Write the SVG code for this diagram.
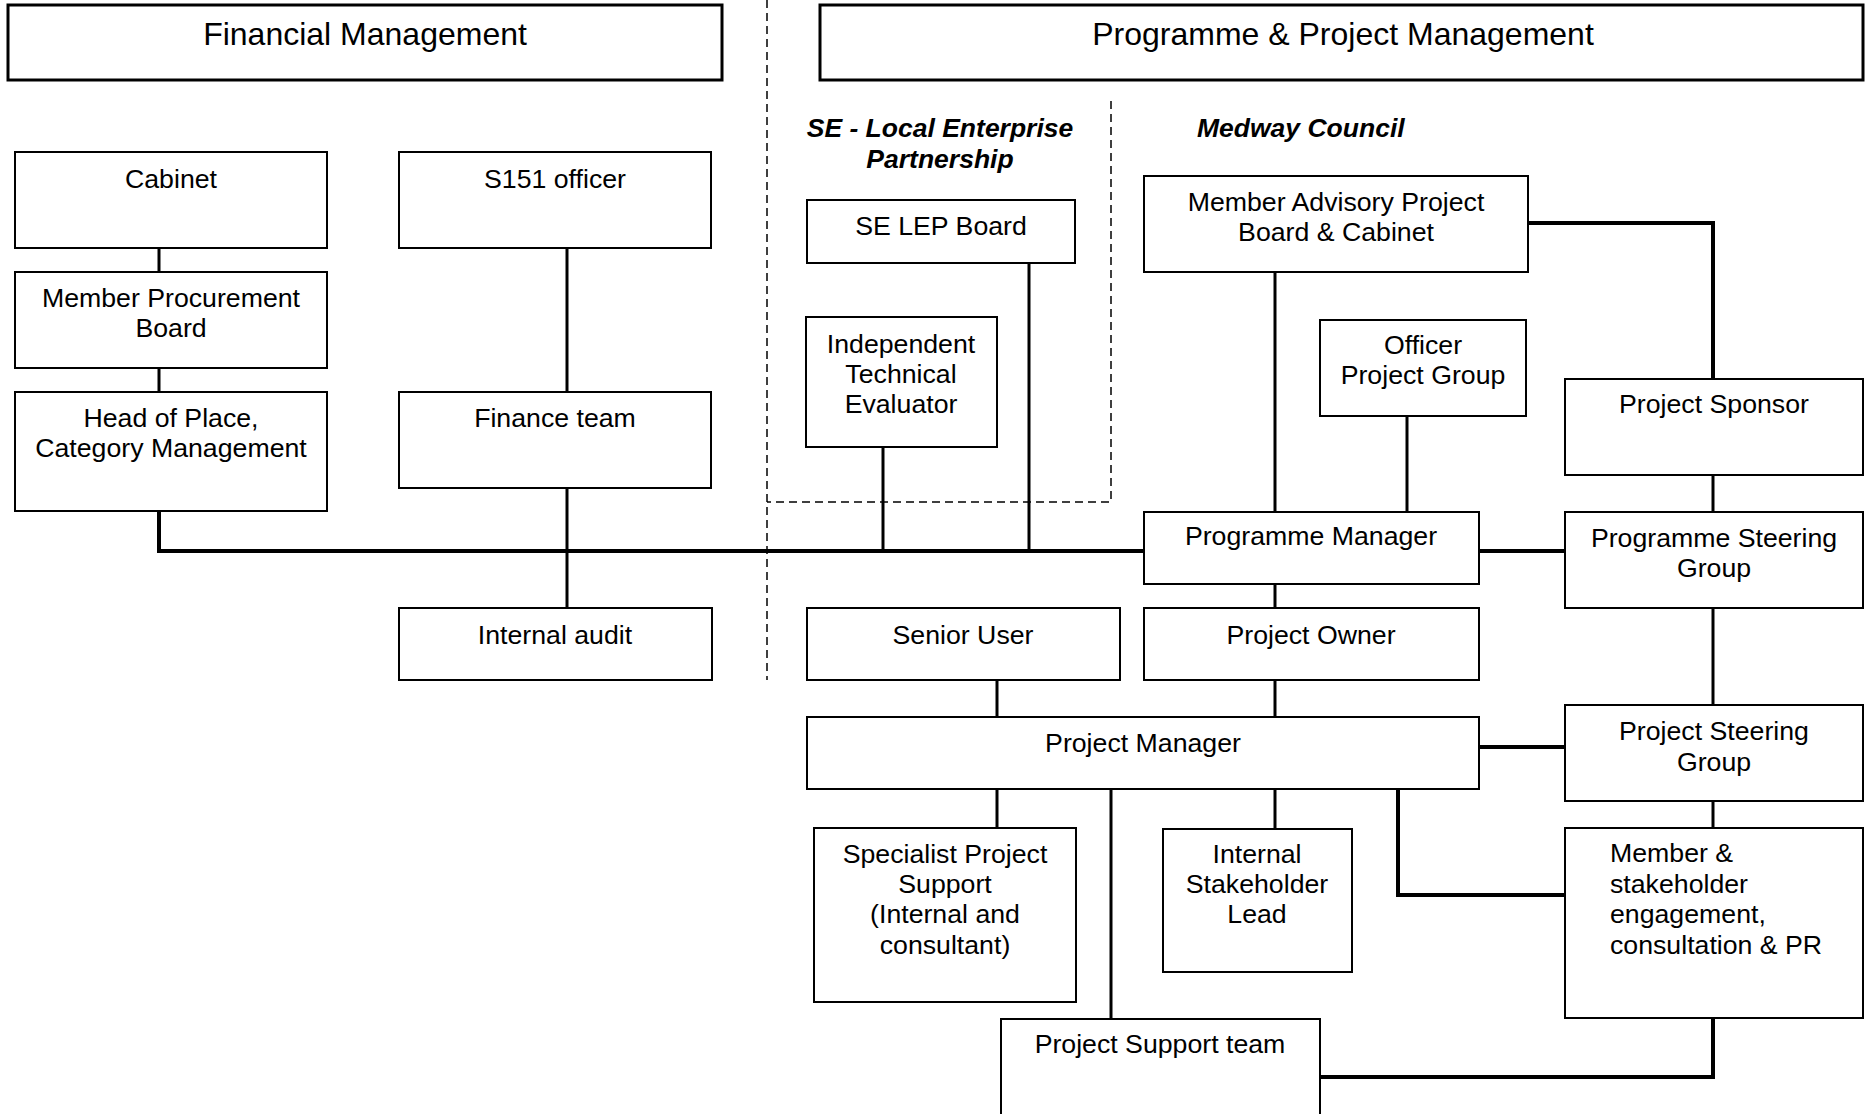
<svg xmlns="http://www.w3.org/2000/svg" width="1865" height="1114" viewBox="0 0 1865 1114">
<style>
  .box { fill: #ffffff; stroke: #000000; stroke-width: 2; }
  .hdr { fill: #ffffff; stroke: #000000; stroke-width: 3; }
  .t { font-family: "Liberation Sans", Arial, sans-serif; font-size: 26.7px; fill: #000000; text-anchor: middle; }
  .tl { font-family: "Liberation Sans", Arial, sans-serif; font-size: 26.7px; fill: #000000; text-anchor: start; }
  .th { font-family: "Liberation Sans", Arial, sans-serif; font-size: 32px; fill: #000000; text-anchor: middle; }
  .tb { font-family: "Liberation Sans", Arial, sans-serif; font-size: 26.5px; font-weight: bold; font-style: italic; fill: #000000; }
  .c { fill: none; stroke: #000000; stroke-width: 3; }
  .ck { fill: none; stroke: #000000; stroke-width: 4; }
  .d { fill: none; stroke: #000000; stroke-width: 1.5; stroke-dasharray: 8 5; }
</style>
<rect width="1865" height="1114" fill="#ffffff"/>

<g id="dividers">
  <line class="d" x1="767" y1="0" x2="767" y2="680"/>
  <path class="d" d="M1111,101 V502 H767"/>
</g>

<g id="connectors">
  <line class="c" x1="159" y1="248" x2="159" y2="272"/>
  <line class="c" x1="159" y1="368" x2="159" y2="392"/>
  <polyline class="ck" points="159,511 159,551 1144,551"/>
  <line class="c" x1="567" y1="248" x2="567" y2="392"/>
  <line class="c" x1="567" y1="488" x2="567" y2="608"/>
  <line class="c" x1="883" y1="447" x2="883" y2="551"/>
  <line class="c" x1="1029" y1="263" x2="1029" y2="551"/>
  <line class="c" x1="1275" y1="272" x2="1275" y2="512"/>
  <line class="c" x1="1407" y1="416" x2="1407" y2="512"/>
  <polyline class="ck" points="1528,223 1713,223 1713,379"/>
  <line class="c" x1="1713" y1="475" x2="1713" y2="512"/>
  <line class="ck" x1="1479" y1="551" x2="1565" y2="551"/>
  <line class="c" x1="1713" y1="608" x2="1713" y2="705"/>
  <line class="c" x1="1275" y1="584" x2="1275" y2="608"/>
  <line class="c" x1="1275" y1="680" x2="1275" y2="717"/>
  <line class="c" x1="997" y1="680" x2="997" y2="717"/>
  <line class="ck" x1="1479" y1="747" x2="1565" y2="747"/>
  <line class="c" x1="1713" y1="801" x2="1713" y2="828"/>
  <line class="c" x1="997" y1="789" x2="997" y2="828"/>
  <line class="c" x1="1111" y1="789" x2="1111" y2="1019"/>
  <line class="c" x1="1275" y1="789" x2="1275" y2="829"/>
  <polyline class="ck" points="1398,789 1398,895 1565,895"/>
  <polyline class="ck" points="1713,1018 1713,1077 1320,1077"/>
</g>

<g id="financial-management">
  <rect class="hdr" x="8" y="5" width="714" height="75"/>
  <text class="th" x="365" y="45">Financial Management</text>
</g>
<g id="programme-project-management">
  <rect class="hdr" x="820" y="5" width="1043" height="75"/>
  <text class="th" x="1343" y="45">Programme &amp; Project Management</text>
</g>

<g id="label-se-lep">
  <text class="tb" x="940" y="137" text-anchor="middle">SE - Local Enterprise</text>
  <text class="tb" x="940" y="168" text-anchor="middle">Partnership</text>
</g>
<g id="label-medway">
  <text class="tb" x="1197" y="137">Medway Council</text>
</g>

<g id="cabinet">
  <rect class="box" x="15" y="152" width="312" height="96"/>
  <text class="t" x="171" y="188">Cabinet</text>
</g>
<g id="member-procurement-board">
  <rect class="box" x="15" y="272" width="312" height="96"/>
  <text class="t" x="171" y="307">Member Procurement</text>
  <text class="t" x="171" y="337">Board</text>
</g>
<g id="head-of-place">
  <rect class="box" x="15" y="392" width="312" height="119"/>
  <text class="t" x="171" y="427">Head of Place,</text>
  <text class="t" x="171" y="457">Category Management</text>
</g>
<g id="s151-officer">
  <rect class="box" x="399" y="152" width="312" height="96"/>
  <text class="t" x="555" y="188">S151 officer</text>
</g>
<g id="finance-team">
  <rect class="box" x="399" y="392" width="312" height="96"/>
  <text class="t" x="555" y="427">Finance team</text>
</g>
<g id="internal-audit">
  <rect class="box" x="399" y="608" width="313" height="72"/>
  <text class="t" x="555" y="644">Internal audit</text>
</g>
<g id="se-lep-board">
  <rect class="box" x="807" y="200" width="268" height="63"/>
  <text class="t" x="941" y="235">SE LEP Board</text>
</g>
<g id="independent-technical-evaluator">
  <rect class="box" x="806" y="317" width="191" height="130"/>
  <text class="t" x="901" y="353">Independent</text>
  <text class="t" x="901" y="383">Technical</text>
  <text class="t" x="901" y="413">Evaluator</text>
</g>
<g id="member-advisory-project-board">
  <rect class="box" x="1144" y="176" width="384" height="96"/>
  <text class="t" x="1336" y="211">Member Advisory Project</text>
  <text class="t" x="1336" y="241">Board &amp; Cabinet</text>
</g>
<g id="officer-project-group">
  <rect class="box" x="1320" y="320" width="206" height="96"/>
  <text class="t" x="1423" y="354">Officer</text>
  <text class="t" x="1423" y="384">Project Group</text>
</g>
<g id="project-sponsor">
  <rect class="box" x="1565" y="379" width="298" height="96"/>
  <text class="t" x="1714" y="413">Project Sponsor</text>
</g>
<g id="programme-manager">
  <rect class="box" x="1144" y="512" width="335" height="72"/>
  <text class="t" x="1311" y="545">Programme Manager</text>
</g>
<g id="programme-steering-group">
  <rect class="box" x="1565" y="512" width="298" height="96"/>
  <text class="t" x="1714" y="547">Programme Steering</text>
  <text class="t" x="1714" y="577">Group</text>
</g>
<g id="senior-user">
  <rect class="box" x="807" y="608" width="313" height="72"/>
  <text class="t" x="963" y="644">Senior User</text>
</g>
<g id="project-owner">
  <rect class="box" x="1144" y="608" width="335" height="72"/>
  <text class="t" x="1311" y="644">Project Owner</text>
</g>
<g id="project-manager">
  <rect class="box" x="807" y="717" width="672" height="72"/>
  <text class="t" x="1143" y="752">Project Manager</text>
</g>
<g id="project-steering-group">
  <rect class="box" x="1565" y="705" width="298" height="96"/>
  <text class="t" x="1714" y="740">Project Steering</text>
  <text class="t" x="1714" y="771">Group</text>
</g>
<g id="specialist-project-support">
  <rect class="box" x="814" y="828" width="262" height="174"/>
  <text class="t" x="945" y="863">Specialist Project</text>
  <text class="t" x="945" y="893">Support</text>
  <text class="t" x="945" y="923">(Internal and</text>
  <text class="t" x="945" y="954">consultant)</text>
</g>
<g id="internal-stakeholder-lead">
  <rect class="box" x="1163" y="829" width="189" height="143"/>
  <text class="t" x="1257" y="863">Internal</text>
  <text class="t" x="1257" y="893">Stakeholder</text>
  <text class="t" x="1257" y="923">Lead</text>
</g>
<g id="member-stakeholder-engagement">
  <rect class="box" x="1565" y="828" width="298" height="190"/>
  <text class="tl" x="1610" y="862">Member &amp;</text>
  <text class="tl" x="1610" y="893">stakeholder</text>
  <text class="tl" x="1610" y="923">engagement,</text>
  <text class="tl" x="1610" y="954">consultation &amp; PR</text>
</g>
<g id="project-support-team">
  <rect class="box" x="1001" y="1019" width="319" height="110"/>
  <text class="t" x="1160" y="1053">Project Support team</text>
</g>
</svg>
